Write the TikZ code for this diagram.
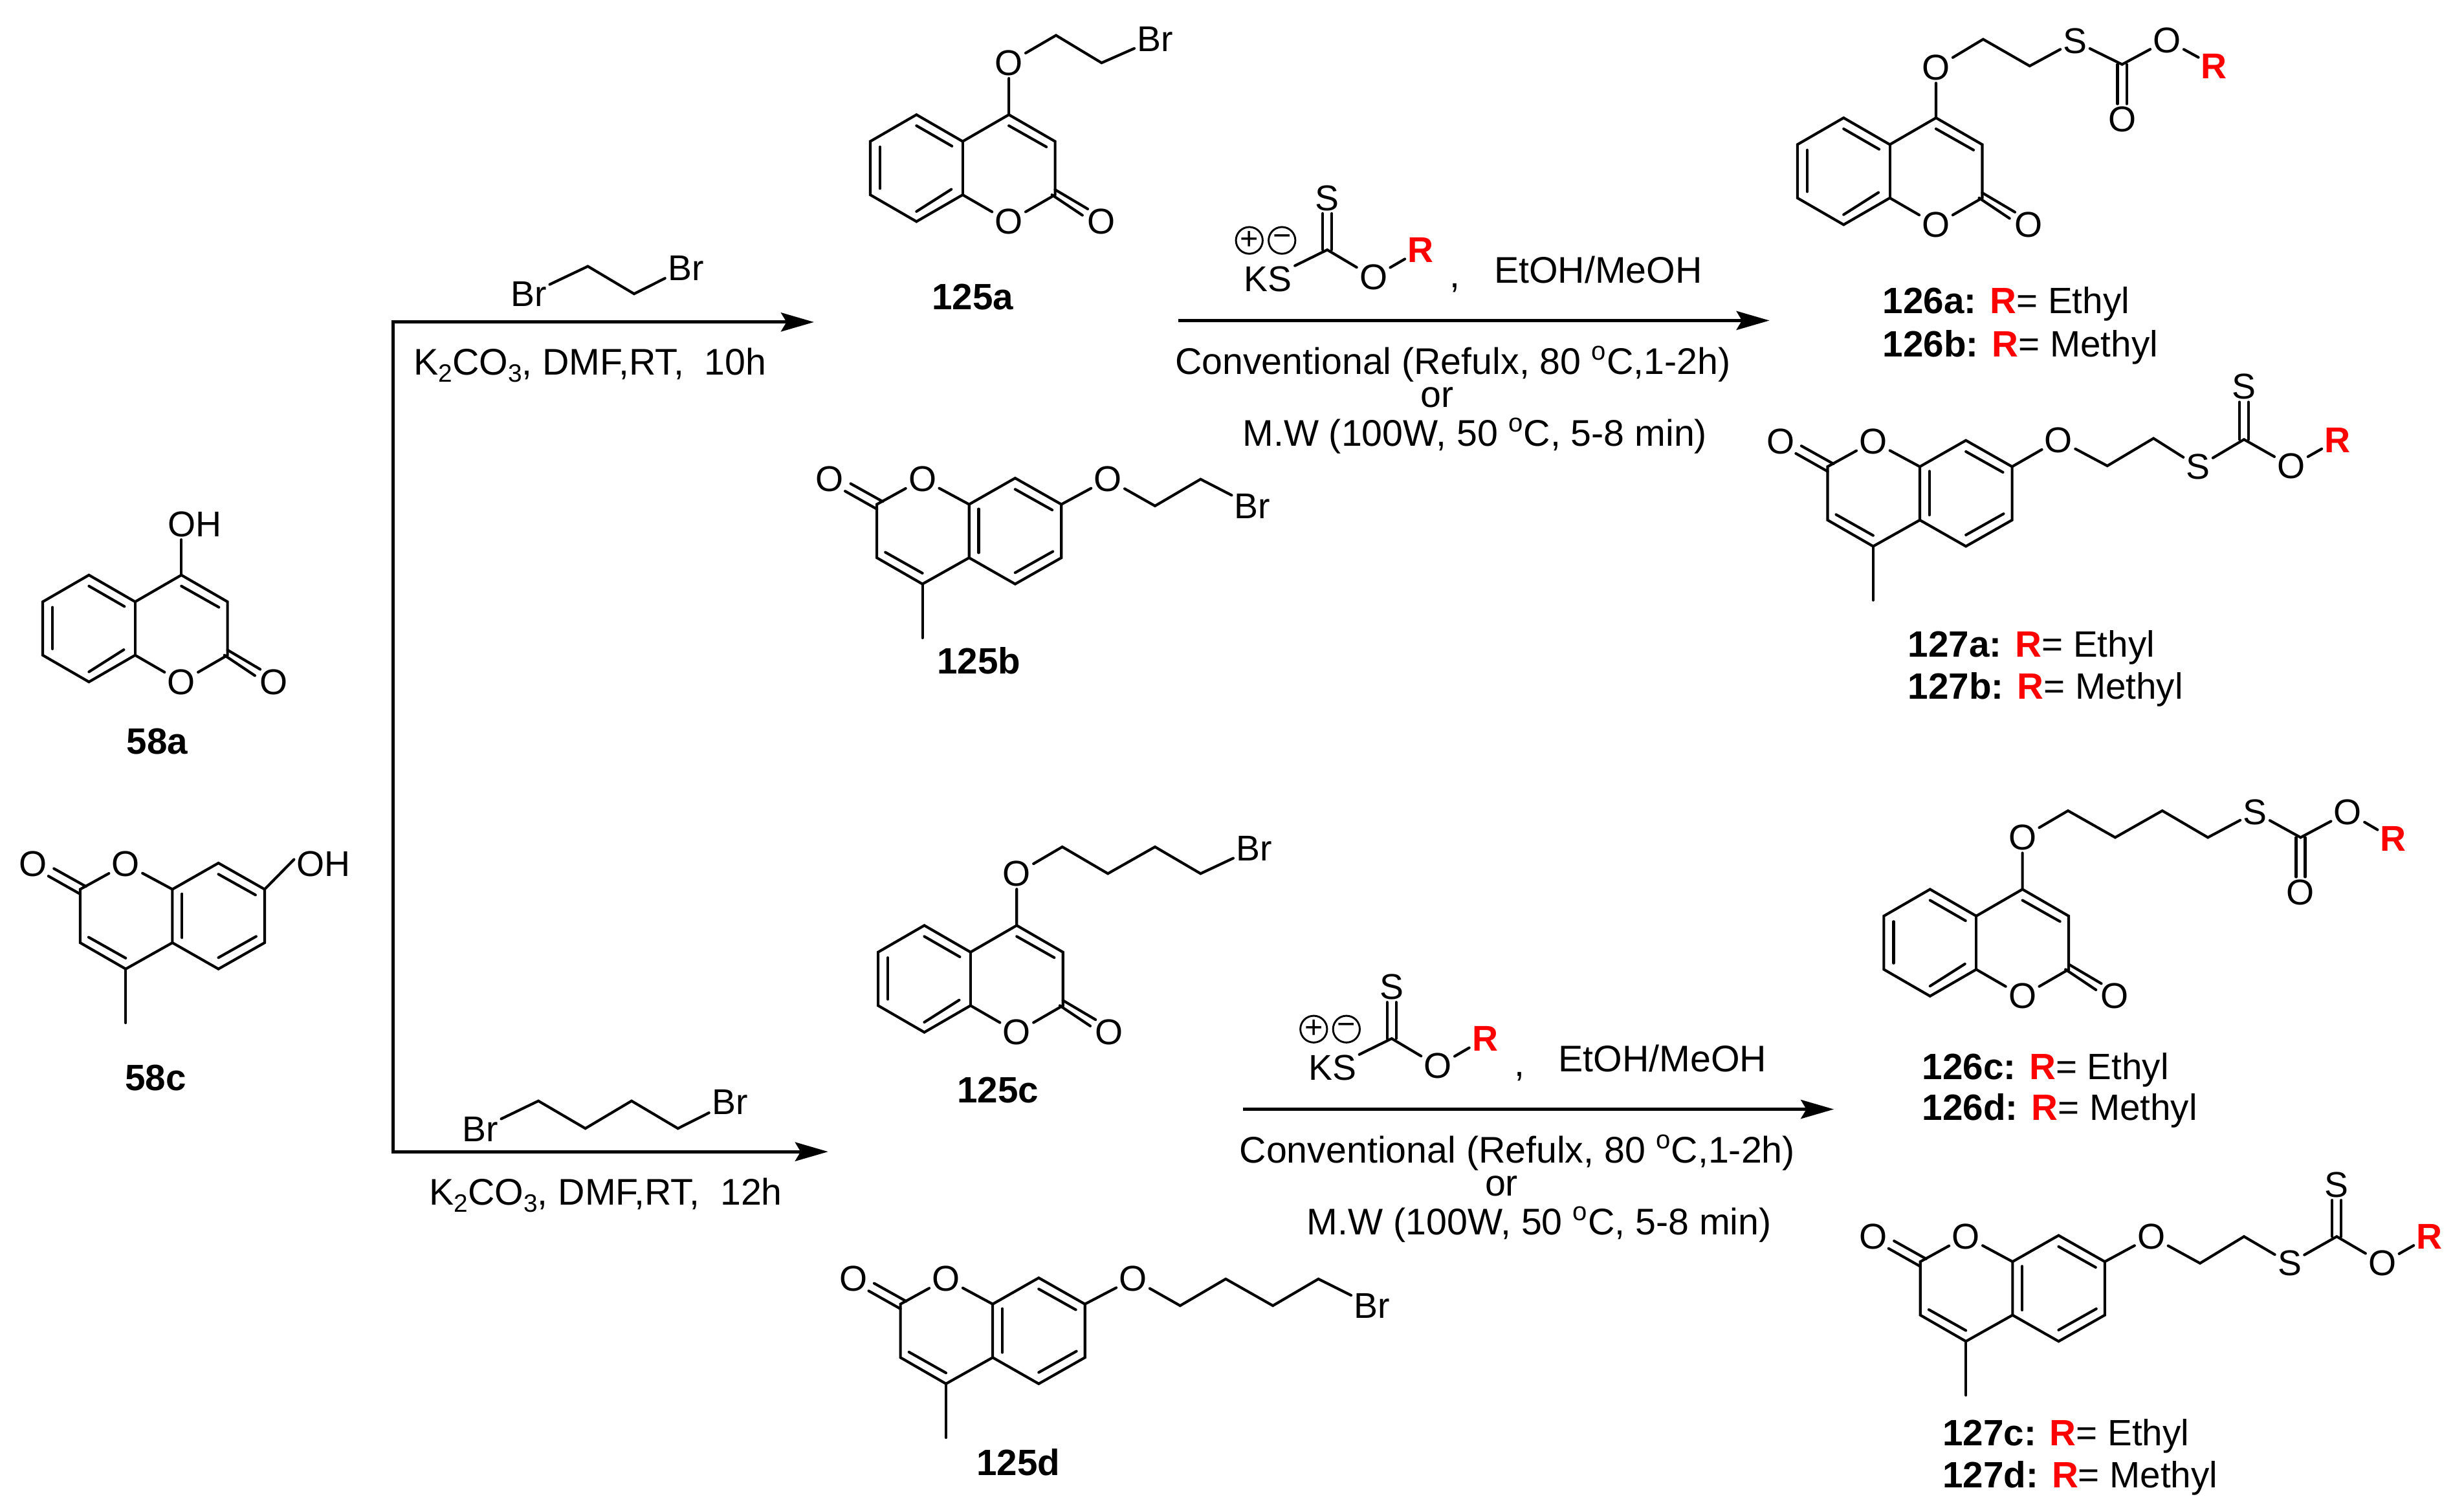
\documentclass[tikz,border=0pt]{standalone}
\usepackage{fontspec}
\setmainfont{Liberation Sans}
\usetikzlibrary{arrows.meta}
\definecolor{rred}{RGB}{255,0,0}
\newcommand{\sizeA}{\fontsize{22.8}{24}\selectfont}
\newcommand{\sizeT}{\fontsize{23.6}{24}\selectfont}
\newcommand{\sizeL}{\fontsize{23.3}{24}\selectfont}
\newcommand{\subs}[1]{\raisebox{-4.5pt}{\fontsize{16}{16}\selectfont #1}}
\tikzset{
  bond/.style={line width=1.7pt,line cap=round,line join=miter,black},
  atom/.style={inner sep=1.6pt,font=\sizeA,text=black},
  ratom/.style={inner sep=1.6pt,font=\sizeA\bfseries,text=rred},
  txt/.style={inner sep=0pt,font=\sizeT,anchor=base},
  txtw/.style={inner sep=0pt,font=\sizeT,anchor=base west},
  lblw/.style={inner sep=0pt,font=\sizeL,anchor=base west},
  cmpd/.style={inner sep=0pt,font=\sizeL\bfseries,anchor=base},
  rxn/.style={line width=2pt,-{Stealth[length=21pt,width=12pt,inset=3.5pt]}},
  elbow/.style={line width=2pt},
  charge/.style={circle,draw,line width=1.2pt,minimum size=17pt,inner sep=0pt,font=\fontsize{20}{20}\selectfont},
}
% 4-substituted coumarin; origin at C4
\newcommand{\coumA}[3]{%
\begin{scope}[shift={(#2,#3)}]
  \coordinate (#1c4) at (0,0);
  \coordinate (#1c3) at (29.4,17);
  \coordinate (#1c2) at (29.4,51);
  \coordinate (#1c8a) at (-29.4,51);
  \coordinate (#1c4a) at (-29.4,17);
  \coordinate (#1c5) at (-58.8,0);
  \coordinate (#1c6) at (-88.2,17);
  \coordinate (#1c7) at (-88.2,51);
  \coordinate (#1c8) at (-58.8,68);
  \node[atom] (#1o1) at (0,68) {O};
  \node[atom] (#1ox) at (58.7,68) {O};
  \draw[bond] (#1o1)--(#1c2)--(#1c3)--(#1c4)--(#1c4a)--(#1c5)--(#1c6)--(#1c7)--(#1c8)--(#1c8a)--(#1o1);
  \draw[bond] (#1c4a)--(#1c8a);
  \draw[bond] (-58.8,7)--(-36.2,20);
  \draw[bond] (0,7)--(23.9,20.5);
  \draw[bond] (-82,20.5)--(-82,47);
  \draw[bond] (-58.8,61.6)--(-36.6,47.5);
  \draw[bond] (29.4,47.7)--(50.2,60);
  \draw[bond] (27.4,51)--(46.8,64);
\end{scope}}
% 7-substituted 4-methylcoumarin; origin at ring O
\newcommand{\coumB}[3]{%
\begin{scope}[shift={(#2,#3)}]
  \node[atom] (#1o1) at (0,0) {O};
  \node[atom] (#1ox) at (-59,0) {O};
  \coordinate (#1c2) at (-29,16);
  \coordinate (#1c3) at (-29,50);
  \coordinate (#1c4) at (0,66.7);
  \coordinate (#1me) at (0,101);
  \coordinate (#1c4a) at (29.7,50);
  \coordinate (#1c8a) at (29.7,16);
  \coordinate (#1c8) at (59,-0.7);
  \coordinate (#1c7) at (88.4,16);
  \coordinate (#1c6) at (88.4,50);
  \coordinate (#1c5) at (59,66.7);
  \draw[bond] (#1o1)--(#1c2)--(#1c3)--(#1c4)--(#1c4a)--(#1c8a)--(#1o1);
  \draw[bond] (#1c8a)--(#1c8)--(#1c7)--(#1c6)--(#1c5)--(#1c4a);
  \draw[bond] (#1c4)--(#1me);
  \draw[bond] (-23.6,46.5)--(0,59.8);
  \draw[bond] (35.8,18.9)--(35.8,46.8);
  \draw[bond] (59,6.4)--(82.6,19.6);
  \draw[bond] (59,59.5)--(83,46);
  \draw[bond] (-45.7,2.8)--(-25.3,14.2);
  \draw[bond] (-49.2,7.6)--(-29,19);
\end{scope}}
% double bond between carbon coordinate and upper/lower atom
\newcommand{\dblup}[2]{\draw[bond] ([xshift=-2.9pt]#1) -- ([xshift=-2.9pt]#2.south); \draw[bond] ([xshift=2.9pt]#1) -- ([xshift=2.9pt]#2.south);}
\newcommand{\dbldown}[2]{\draw[bond] ([xshift=-2.9pt]#1) -- ([xshift=-2.9pt]#2.north); \draw[bond] ([xshift=2.9pt]#1) -- ([xshift=2.9pt]#2.north);}
% reaction conditions block, shifted relative to the upper one
\newcommand{\conds}[3]{%
\begin{scope}[shift={(#2,#3)}]
  \node[atom] (#1S) at (844.6,126) {S};
  \coordinate (#1C) at (844.6,159);
  \node[atom] (#1KS) at (807,177.5) {KS};
  \node[atom] (#1O) at (874,176.5) {O};
  \node[ratom] (#1R) at (904,159) {R};
  \node[charge] (#1p) at (795,153) {+};
  \node[charge] (#1m) at (815.8,153) {−};
  \dblup{#1C}{#1S}
  \draw[bond] (#1KS)--(#1C)--(#1O)--(#1R);
  \node[txt] (#1comma) at (926,183) {,};
  \node[txt] (#1sol) at (1017,180) {EtOH/MeOH};
  \coordinate (#1a) at (750,204);
  \coordinate (#1b) at (1126,204);
  \draw[rxn] (#1a)--(#1b);
  \node[txt] (#1t1) at (924.5,238) {Conventional (Refulx, 80 \textsuperscript{o}C,1-2h)};
  \node[txt] (#1t2) at (914.5,259) {or};
  \node[txt] (#1t3) at (938.5,284) {M.W (100W, 50 \textsuperscript{o}C, 5-8 min)};
\end{scope}}
\newcommand{\Rr}{\textcolor{rred}{\textbf{R}}}
\begin{document}
\begin{tikzpicture}[x=1pt,y=-1pt]
\useasboundingbox (0,0) rectangle (1568,961);
\fill[white] (0,0) rectangle (1568,961);

% 58a
\coumA{sa}{115.4}{366}
\node[atom] (saoh) at (123.8,333.6) {OH};
\draw[bond] (sac4) -- (sac4 |- saoh.south);
\node[cmpd] (l58a) at (100,480) {58a};

% 58c
\coumB{sc}{80}{550}
\node[atom] (scoh) at (206,550) {OH};
\draw[bond] (scc7) -- ([yshift=3pt]scoh.west);
\node[cmpd] (l58c) at (99,694) {58c};

% elbow and arrows
\coordinate (e1) at (250,205);
\coordinate (e2) at (250,733);
\coordinate (a1) at (518,205);
\coordinate (a2) at (527,733);
\draw[elbow] (e1)--(e2);
\draw[rxn] ([xshift=-1pt]e1)--(a1);
\draw[rxn] ([xshift=-1pt]e2)--(a2);

% dibromoethane
\node[atom] (b1) at (336.6,187.3) {Br};
\coordinate (b2) at (374.1,169.5);
\coordinate (b3) at (403.5,187);
\node[atom] (b4) at (436.4,170.5) {Br};
\draw[bond] (b1)--(b2)--(b3)--(b4);
\node[txtw] (k1) at (263,238.5) {K\subs{2}CO\subs{3}, DMF,RT,\ \ 10h};

% dibromobutane
\node[atom] (d1) at (305.7,718.5) {Br};
\coordinate (d2) at (342.6,700.7);
\coordinate (d3) at (372.5,718.2);
\coordinate (d4) at (401.9,700.7);
\coordinate (d5) at (431.4,718.2);
\node[atom] (d6) at (464.4,701.6) {Br};
\draw[bond] (d1)--(d2)--(d3)--(d4)--(d5)--(d6);
\node[txtw] (k2) at (273,767) {K\subs{2}CO\subs{3}, DMF,RT,\ \ 12h};

% 125a
\coumA{a}{642}{73}
\node[atom] (ao) at (642,40) {O};
\coordinate (az1) at (672,22.5);
\coordinate (az2) at (701,40);
\node[atom] (abr) at (735,25) {Br};
\draw[bond] (ac4)--(ao)--(az1)--(az2)--(abr);
\node[cmpd] (l125a) at (619,197) {125a};

% 125b
\coumB{b}{587}{305}
\node[atom] (bo) at (705,305) {O};
\coordinate (bz1) at (735,322);
\coordinate (bz2) at (764,305);
\node[atom] (bbr) at (797,322) {Br};
\draw[bond] (bc7)--(bo)--(bz1)--(bz2)--(bbr);
\node[cmpd] (l125b) at (623,429) {125b};

% 125c
\coumA{c}{647}{589}
\node[atom] (co) at (647,556) {O};
\coordinate (cz1) at (676,539);
\coordinate (cz2) at (705,556);
\coordinate (cz3) at (735,539);
\coordinate (cz4) at (764,556);
\node[atom] (cbr) at (798,540) {Br};
\draw[bond] (cc4)--(co)--(cz1)--(cz2)--(cz3)--(cz4)--(cbr);
\node[cmpd] (l125c) at (635,702) {125c};

% 125d
\coumB{d}{602}{814}
\node[atom] (do) at (721,814) {O};
\coordinate (dz1) at (751,831);
\coordinate (dz2) at (780,814);
\coordinate (dz3) at (810,831);
\coordinate (dz4) at (839,814);
\node[atom] (dbr) at (873,831) {Br};
\draw[bond] (dc7)--(do)--(dz1)--(dz2)--(dz3)--(dz4)--(dbr);
\node[cmpd] (l125d) at (648,939) {125d};

% conditions
\conds{u}{0}{0}
\conds{w}{41}{502}

% 126a
\coumA{e}{1232}{75}
\node[atom] (eo) at (1232,43) {O};
\coordinate (ez1) at (1262,25);
\coordinate (ez2) at (1291.6,42);
\node[atom] (es) at (1320.5,26.3) {S};
\coordinate (ez3) at (1350.4,41);
\node[atom] (eo2) at (1379,25.6) {O};
\node[ratom] (er) at (1409,42) {R};
\node[atom] (eox) at (1350.4,76) {O};
\draw[bond] (ec4)--(eo)--(ez1)--(ez2)--(es)--(ez3)--(eo2)--(er);
\dbldown{ez3}{eox}
\node[lblw] (l126a) at (1198,199.5) {\textbf{126a:} \Rr= Ethyl};
\node[lblw] (l126b) at (1198,227) {\textbf{126b:} \Rr= Methyl};

% 127a
\coumB{f}{1192}{281}
\node[atom] (fo) at (1310,280) {O};
\coordinate (fz1) at (1341,296.5);
\coordinate (fz2) at (1370.4,279);
\node[atom] (fs) at (1398.8,297) {S};
\coordinate (fz3) at (1428,279.7);
\node[atom] (fst) at (1428,246) {S};
\node[atom] (fo2) at (1458,296.7) {O};
\node[ratom] (fr) at (1487.5,280) {R};
\draw[bond] (fc7)--(fo)--(fz1)--(fz2)--(fs)--(fz3)--(fo2)--(fr);
\dblup{fz3}{fst}
\node[lblw] (l127a) at (1214,418) {\textbf{127a:} \Rr= Ethyl};
\node[lblw] (l127b) at (1214,445) {\textbf{127b:} \Rr= Methyl};

% 126c
\coumA{g}{1287}{566}
\node[atom] (go) at (1287,533) {O};
\coordinate (gz1) at (1316,516);
\coordinate (gz2) at (1346,533);
\coordinate (gz3) at (1376,516);
\coordinate (gz4) at (1405,533);
\node[atom] (gs) at (1435,517) {S};
\coordinate (gz5) at (1464,533);
\node[atom] (go2) at (1494,517) {O};
\node[ratom] (gr) at (1523,534) {R};
\node[atom] (gox) at (1464,568) {O};
\draw[bond] (gc4)--(go)--(gz1)--(gz2)--(gz3)--(gz4)--(gs)--(gz5)--(go2)--(gr);
\dbldown{gz5}{gox}
\node[lblw] (l126c) at (1223,687) {\textbf{126c:} \Rr= Ethyl};
\node[lblw] (l126d) at (1223,713) {\textbf{126d:} \Rr= Methyl};

% 127c
\coumB{h}{1251}{787}
\node[atom] (ho) at (1369,787) {O};
\coordinate (hz1) at (1400,804);
\coordinate (hz2) at (1428,787);
\node[atom] (hs) at (1457,804) {S};
\coordinate (hz3) at (1487,787);
\node[atom] (hst) at (1487,754) {S};
\node[atom] (ho2) at (1516,804) {O};
\node[ratom] (hr) at (1546,787) {R};
\draw[bond] (hc7)--(ho)--(hz1)--(hz2)--(hs)--(hz3)--(ho2)--(hr);
\dblup{hz3}{hst}
\node[lblw] (l127c) at (1236,920) {\textbf{127c:} \Rr= Ethyl};
\node[lblw] (l127d) at (1236,947) {\textbf{127d:} \Rr= Methyl};
\end{tikzpicture}
\end{document}
